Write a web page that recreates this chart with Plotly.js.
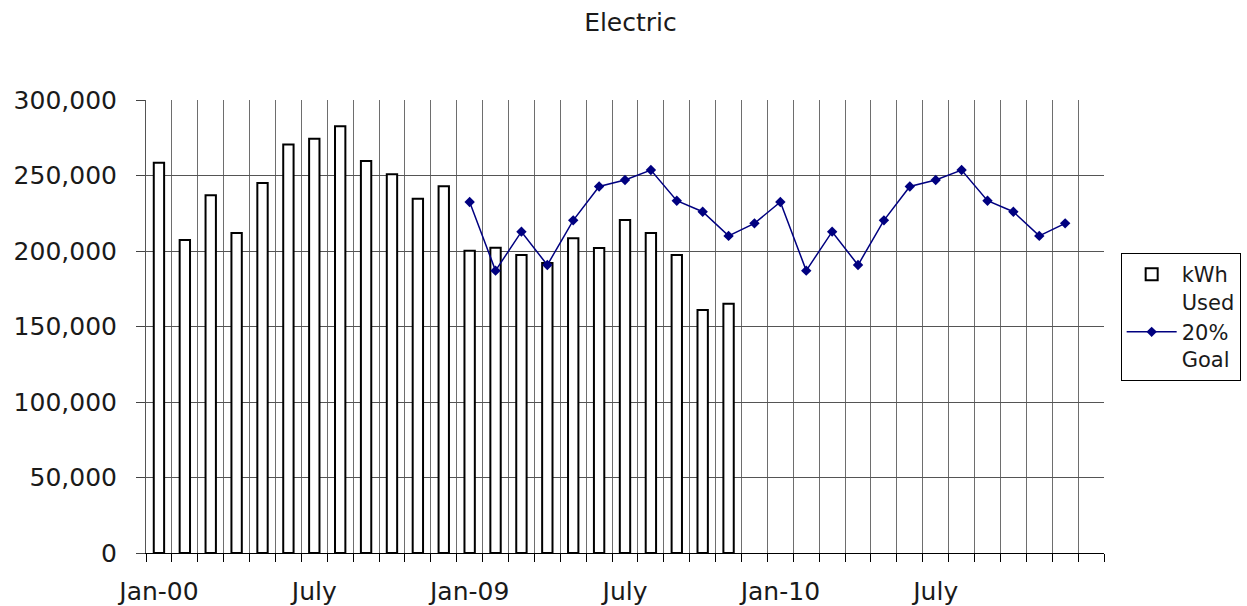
<!DOCTYPE html>
<html>
<head>
<meta charset="utf-8">
<script src="https://cdn.plot.ly/plotly-3.0.1.min.js"></script>
<style>
  html, body { margin: 0; padding: 0; background: #fff; }
  #chart { width: 1247px; height: 606px; }
</style>
</head>
<body>
<div id="chart"></div>
<script>
// Monthly categories over three years, plus one trailing empty slot
const months = [
  "Jan-00","Feb-00","Mar-00","Apr-00","May-00","Jun-00","Jul-00","Aug-00","Sep-00","Oct-00","Nov-00","Dec-00",
  "Jan-09","Feb-09","Mar-09","Apr-09","May-09","Jun-09","Jul-09","Aug-09","Sep-09","Oct-09","Nov-09","Dec-09",
  "Jan-10","Feb-10","Mar-10","Apr-10","May-10","Jun-10","Jul-10","Aug-10","Sep-10","Oct-10","Nov-10","Dec-10",
  "Jan-11"
];

// Axis labels shown under the categories (every sixth month)
const tickLabels = [
  "Jan-00","","","","","","July","","","","","",
  "Jan-09","","","","","","July","","","","","",
  "Jan-10","","","","","","July","","","","","",
  ""
];

// kWh used, Jan-00 through Nov-09
const kwhMonths = months.slice(0, 23);
const kwhUsed = [
  258500, 207300, 237000, 212000, 245000, 270500, 274400, 282600, 259600, 250800, 234600, 242800,
  200200, 202200, 197400, 192000, 208400, 202000, 220500, 212000, 197400, 161000, 165000
];

// 20% goal, Jan-09 through Dec-10
const goalMonths = months.slice(12, 36);
const goal = [
  232500, 187000, 212800, 190700, 220300, 242700, 247000, 253600, 233300, 226000, 210000, 218300,
  232500, 187000, 212800, 190700, 220300, 242700, 247000, 253600, 233300, 226000, 210000, 218300
];

const FONT = "DejaVu Sans, Liberation Sans, Arial, sans-serif";
const INK = "#1a1a1a";

const traces = [
  {
    type: "bar",
    name: "kWh<br>Used",
    x: kwhMonths,
    y: kwhUsed,
    marker: { color: "#ffffff", line: { color: "#000000", width: 2 } },
    hovertemplate: "%{x}: %{y:,}<extra></extra>"
  },
  {
    type: "scatter",
    mode: "lines+markers",
    name: "20%<br>Goal",
    x: goalMonths,
    y: goal,
    line: { color: "#000080", width: 1.5 },
    marker: { symbol: "diamond", size: 8, color: "#000080" },
    hovertemplate: "%{x}: %{y:,}<extra></extra>"
  }
];

const layout = {
  width: 1247,
  height: 606,
  margin: { l: 146, r: 143, t: 100, b: 53, autoexpand: false },
  paper_bgcolor: "#ffffff",
  plot_bgcolor: "#ffffff",
  font: { family: FONT, color: INK, size: 24 },
  title: {
    text: "Electric",
    font: { family: FONT, size: 25, color: INK },
    x: 0.5057, xref: "paper", xanchor: "center",
    y: 0.963, yref: "container", yanchor: "middle"
  },
  bargap: 0.6,
  showlegend: true,
  legend: {
    x: 1.0174, xanchor: "left",
    y: 0.662, yanchor: "top",
    bgcolor: "#ffffff",
    bordercolor: "#000000",
    borderwidth: 1,
    font: { family: FONT, size: 21, color: INK },
    valign: "top",
    itemwidth: 50,
    tracegroupgap: 0
  },
  xaxis: {
    type: "category",
    categoryorder: "array",
    categoryarray: months,
    range: [-0.5, 36.5],
    tickmode: "array",
    tickvals: months,
    ticktext: tickLabels,
    tickson: "boundaries",
    ticks: "outside",
    ticklen: 8,
    tickcolor: "#000000",
    tickwidth: 1,
    showgrid: true,
    gridcolor: "#6e6e6e",
    gridwidth: 1,
    showline: true,
    linecolor: "#000000",
    linewidth: 1,
    tickangle: 0,
    ticklabelstandoff: 16,
    tickfont: { family: FONT, size: 25, color: INK },
    fixedrange: true
  },
  yaxis: {
    range: [0, 300000],
    tickmode: "linear",
    tick0: 0,
    dtick: 50000,
    tickformat: ",",
    ticks: "outside",
    ticklen: 9,
    tickcolor: "#444444",
    showgrid: true,
    gridcolor: "#555555",
    gridwidth: 1,
    showline: true,
    linecolor: "#555555",
    linewidth: 1,
    zeroline: false,
    ticklabelstandoff: 14,
    tickfont: { family: FONT, size: 25, color: INK },
    fixedrange: true
  }
};

Plotly.newPlot("chart", traces, layout, { displayModeBar: false, staticPlot: true });
</script>
</body>
</html>
